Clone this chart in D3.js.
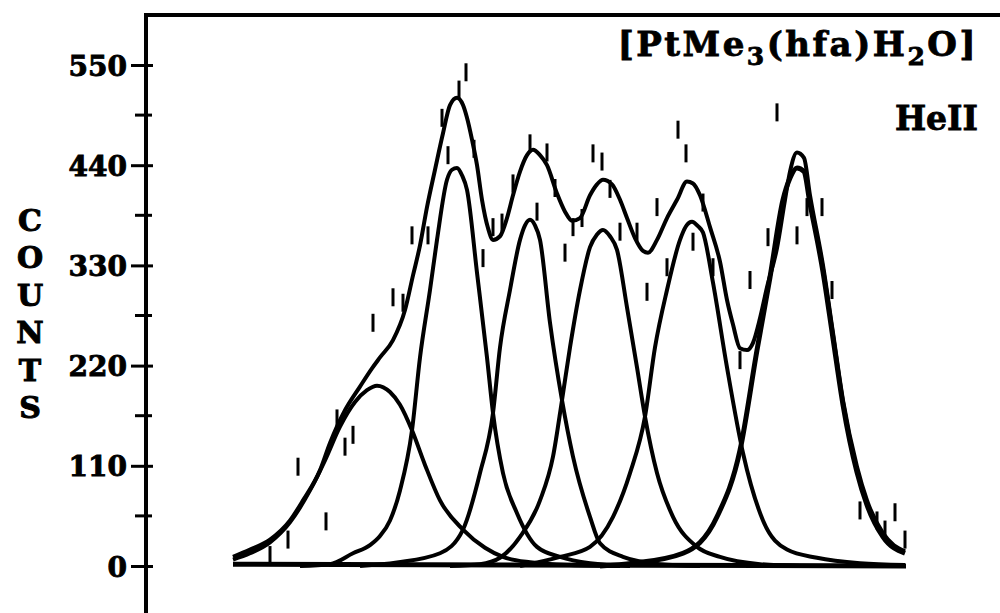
<!DOCTYPE html>
<html><head><meta charset="utf-8">
<script src="https://cdn.jsdelivr.net/npm/d3@7"></script>
<style>html,body{margin:0;padding:0;background:#fff;} svg{display:block}</style>
</head><body>
<svg id="c" width="1000" height="613"></svg>
<script>
// ---------- data (x = channel, y = counts) ----------
const yTicks = [0, 110, 220, 330, 440, 550];
const yMinorTicks = [55, 165, 275, 385, 495];
const axisLetters = ["C", "O", "U", "N", "T", "S"];
const sampleLabel = "HeII";

const comp1 = [[0,7],[3.4,14],[7.4,26],[11.4,48],[15.4,83],[18.4,116],[21.4,153],[24.4,180],[26.8,193],[28.8,198],[31.4,191],[33.4,177],[35.8,149],[38.4,111],[41.4,72],[46,40],[50.4,20],[54,10],[59.4,4],[67.4,1],[77.4,0]];
const comp2 = [[13.4,0],[19.4,2],[24,14],[27.4,23],[29.4,33],[31.4,50],[33.4,83],[35.8,149],[37.4,229],[39.4,303],[40.8,358],[42.8,424],[43.8,435],[44.8,437],[45.8,429],[46.8,413],[48.8,322],[50.8,229],[52,168],[54,102],[56.8,58],[60.8,21],[65.4,10],[71.4,3],[79.4,0]];
const comp3 = [[25.4,0],[32.8,4],[41.4,14],[46,40],[49.4,102],[52,168],[53.4,240],[55.4,303],[57.4,358],[58.4,374],[59.4,380],[60.4,374],[61.4,358],[63.4,267],[65.8,182],[68,120],[71.4,54],[73.4,25],[78,10],[85.4,2],[93.4,0]];
const comp4 = [[43.4,0],[49.4,2],[53.4,9],[57.4,32],[61.4,72],[64,120],[65.8,182],[67.4,240],[69.4,303],[71.4,350],[72.8,364],[74,369],[75.4,362],[76.8,347],[78.8,284],[80.8,218],[82.4,164],[84.8,102],[88,54],[92.8,21],[97.4,10],[105.4,2],[113.4,0]];
const comp5 = [[57.4,0],[65.4,10],[71.4,21],[76,54],[79.4,102],[82.4,164],[84.4,240],[86.8,303],[89.4,358],[90.6,373],[91.8,378],[93,373],[94,366],[96,311],[98.8,218],[102,124],[106,50],[110.8,18],[116.8,9],[125.4,3],[134.4,1]];
const comp6 = [[73.4,0],[80,3],[90,14],[96.8,54],[101.4,127],[104.8,237],[107.4,317],[110,402],[111.4,426],[112.8,437],[114.2,433],[115.4,398],[118,323],[120,250],[122,177],[124.8,103],[126.8,67],[130,32],[134.4,14]];
const envelope = [[0,10],[3.4,18],[7.4,29],[11.4,50],[14,72],[17.4,105],[19.4,135],[22.4,171],[25.4,197],[27.8,217],[29.4,229],[32,248],[34.4,281],[36,319],[37.4,352],[38.8,394],[40.4,435],[42,475],[43.4,506],[44.8,514],[46,506],[46.8,492],[47.8,468],[48.8,440],[49.8,402],[51,371],[52,358],[53.4,362],[54.8,382],[56,407],[57.4,433],[58.8,451],[60,457],[61.4,451],[62.8,440],[64.8,409],[66.4,389],[67.8,379],[69.4,382],[71.4,407],[72.8,419],[74,424],[75.8,419],[77.4,402],[78.8,382],[80.4,360],[82,346],[83,344],[84.8,358],[86.8,382],[88.8,402],[90.8,422],[92,420],[93.4,407],[95.4,372],[97.4,334],[98.8,292],[100,265],[101.4,239],[102.8,237],[104,245],[105.4,272],[106.8,306],[108.8,349],[110.4,402],[111.4,433],[112.8,454],[114.2,448],[115.4,407],[118,330],[120,256],[122,182],[124.8,109],[126.8,72],[130,36],[134.4,16]];
const measured = [[7.4,12],[11,29],[13,109],[18.6,49],[20.8,162],[22.4,131],[24,144],[28,267],[32,295],[34,289],[35.8,363],[39,363],[41.8,492],[43,451],[45.2,523],[46.6,542],[48.2,458],[50,338],[52,372],[53.8,377],[56,420],[59.4,464],[60.8,389],[62.8,454],[64.4,415],[66.4,344],[68,372],[69.8,382],[72,453],[73.8,444],[75.4,414],[77.4,367],[80.8,367],[82.8,301],[84.8,394],[86.8,328],[89,479],[90.6,453],[92,356],[94,399],[96,328],[101.4,226],[103.4,314],[107,361],[108.8,498],[112.8,363],[114.8,394],[117.8,394],[119.8,303],[125.4,61],[128.8,50],[130.4,40],[132.4,59],[134.4,29]];
const components = [comp1, comp2, comp3, comp4, comp5, comp6];

// ---------- layout ----------
const W = 1000, H = 613;
const frameTop = 15, axisX = 146;
const svg = d3.select("#c");
const x = d3.scaleLinear().domain([0, 135]).range([233, 908]);
const y = d3.scaleLinear().domain([0, 550]).range([566, 65]);
const FONT = "'DejaVu Serif', serif";

// frame
svg.append("line").attr("x1", axisX).attr("x2", W).attr("y1", frameTop).attr("y2", frameTop)
  .attr("stroke", "#000").attr("stroke-width", 4);
svg.append("line").attr("x1", axisX).attr("x2", axisX).attr("y1", frameTop - 2).attr("y2", H)
  .attr("stroke", "#000").attr("stroke-width", 4);

// y axis ticks via d3 axis
const ax = d3.axisLeft(y).tickValues(yTicks).tickSize(0).tickPadding(19).tickFormat(d3.format("d"));
const g = svg.append("g").attr("transform", `translate(${axisX},0)`).call(ax);
g.select(".domain").remove();
g.selectAll("text").attr("font-family", FONT).attr("font-weight", "bold").attr("font-size", 28)
  .attr("fill", "#000").attr("stroke", "#000").attr("stroke-width", 0.9).attr("dy", "0.36em");
g.selectAll(".tick").append("line").attr("x1", -15).attr("x2", 7).attr("stroke", "#000").attr("stroke-width", 3);
svg.append("g").selectAll("line").data(yMinorTicks).join("line")
  .attr("x1", axisX - 11).attr("x2", axisX + 6).attr("y1", d => y(d)).attr("y2", d => y(d))
  .attr("stroke", "#000").attr("stroke-width", 3);

// vertical COUNTS
svg.append("g").selectAll("text").data(axisLetters).join("text")
  .attr("x", 30).attr("y", (d, i) => 220 + i * 37.5).attr("dy", "0.36em")
  .attr("text-anchor", "middle").attr("font-family", FONT).attr("font-weight", "bold")
  .attr("font-size", 30).attr("stroke", "#000").attr("stroke-width", 1).text(d => d);

// baseline
svg.append("line").attr("x1", x(0)).attr("x2", x(134.6)).attr("y1", y(2)).attr("y2", y(0))
  .attr("stroke", "#000").attr("stroke-width", 5);

// curves
const line = d3.line().x(d => x(d[0])).y(d => y(d[1])).curve(d3.curveMonotoneX);
svg.append("g").selectAll("path").data(components).join("path")
  .attr("d", line).attr("fill", "none").attr("stroke", "#000")
  .attr("stroke-width", (d, i) => i === 5 ? 5 : 4).attr("stroke-linejoin", "round");
svg.append("path").datum(envelope).attr("d", line).attr("fill", "none")
  .attr("stroke", "#000").attr("stroke-width", 4).attr("stroke-linejoin", "round");

// measured points as short bars
svg.append("g").selectAll("line").data(measured).join("line")
  .attr("x1", d => x(d[0])).attr("x2", d => x(d[0]))
  .attr("y1", d => y(d[1]) - 9).attr("y2", d => y(d[1]) + 9)
  .attr("stroke", "#000").attr("stroke-width", 3);

// title
const t = svg.append("text").attr("x", 978).attr("y", 56).attr("text-anchor", "end")
  .attr("font-family", FONT).attr("font-weight", "bold").attr("font-size", 34)
  .attr("letter-spacing", 2.5).attr("stroke", "#000").attr("stroke-width", 0.8);
t.append("tspan").text("[PtMe");
t.append("tspan").attr("dy", 9).attr("font-size", 25).text("3");
t.append("tspan").attr("dy", -9).text("(hfa)H");
t.append("tspan").attr("dy", 9).attr("font-size", 25).text("2");
t.append("tspan").attr("dy", -9).text("O]");

svg.append("text").attr("x", 978).attr("y", 130).attr("text-anchor", "end")
  .attr("font-family", FONT).attr("font-weight", "bold").attr("font-size", 33)
  .attr("stroke", "#000").attr("stroke-width", 0.8).text(sampleLabel);
</script>
</body></html>
